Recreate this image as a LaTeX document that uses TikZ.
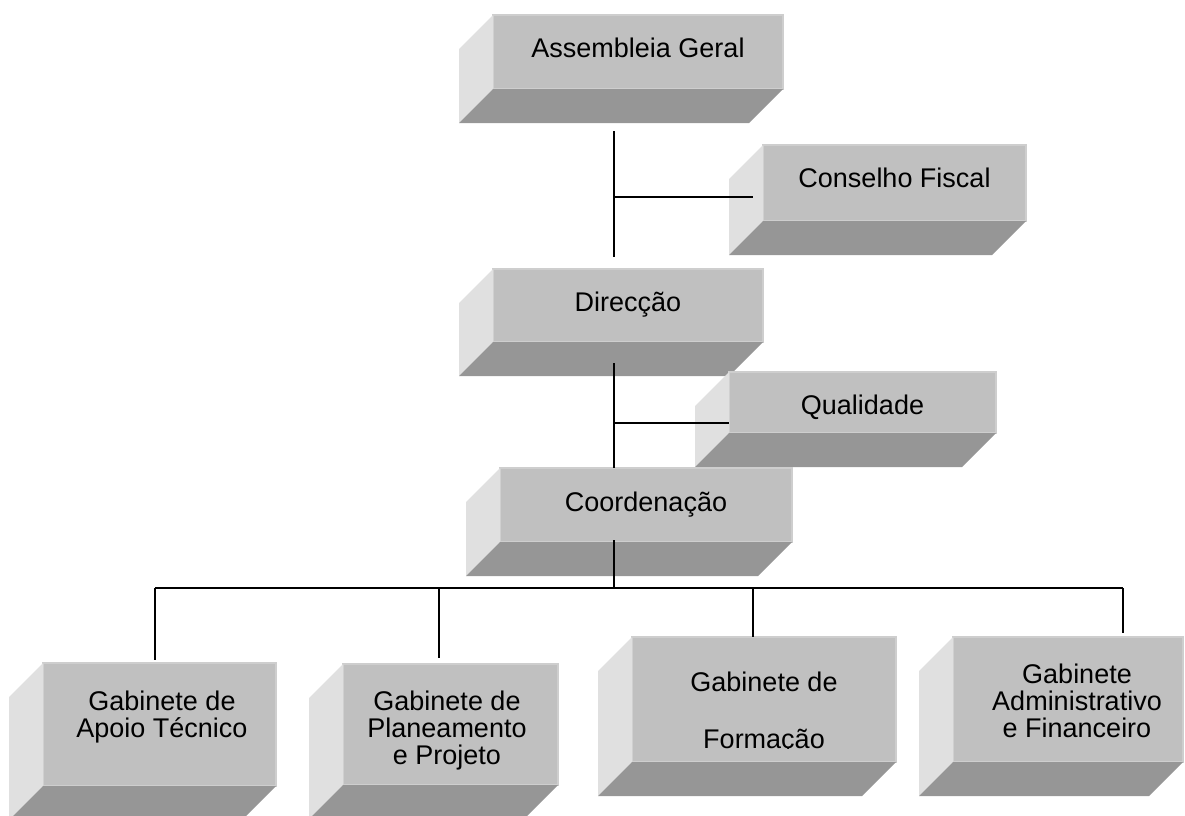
\documentclass[tikz,border=0pt]{standalone}
\usepackage{fontspec}
\setmainfont{Liberation Sans}
\usetikzlibrary{calc}

\definecolor{frontgray}{RGB}{192,192,192}
\definecolor{sidegray}{RGB}{224,224,224}
\definecolor{bottomgray}{RGB}{150,150,150}
\definecolor{edgegray}{RGB}{206,206,206}

% left and bottom faces of a box
\newcommand{\boxfaces}[1]{%
  \fill[sideface] (#1.north west) -- ++(-34,34) -- ($(#1.south west)+(-34,34)$) -- (#1.south west) -- cycle;
  \fill[bottomface] (#1.south west) -- (#1.south east) -- ++(-34,34) -- ($(#1.south west)+(-34,34)$) -- cycle;
}

\begin{document}
\begin{tikzpicture}[x=1pt, y=-1pt, line width=2pt,
    frontface/.style={fill=frontgray, draw=edgegray, line width=1.5pt, inner sep=0pt, outer sep=0pt},
    sideface/.style={fill=sidegray},
    bottomface/.style={fill=bottomgray},
    boxtext/.style={anchor=base, align=center, inner sep=0pt, font=\fontsize{27}{27}\selectfont}]
\useasboundingbox (0,0) rectangle (1185,815);

% Top
\node[frontface, minimum width=290pt, minimum height=74pt] (ag) at (638,52) {};
\boxfaces{ag}
\node[boxtext] (agtext) at (638,57) {Assembleia Geral};

\node[frontface, minimum width=263pt, minimum height=76pt] (cf) at (894.5,183) {};
\boxfaces{cf}
\node[boxtext] (cftext) at (894.5,187) {Conselho Fiscal};

% Middle
\node[frontface, minimum width=270pt, minimum height=73pt] (dir) at (628,305.5) {};
\boxfaces{dir}
\node[boxtext] (dirtext) at (628,311) {Direcção};

\node[frontface, minimum width=267pt, minimum height=61pt] (qual) at (862.5,402.5) {};
\boxfaces{qual}
\node[boxtext] (qualtext) at (862.5,414) {Qualidade};

\node[frontface, minimum width=292pt, minimum height=74pt] (coord) at (646,505) {};
\boxfaces{coord}
\node[boxtext] (coordtext) at (646,511) {Coordenação};

% Gabinetes (base = last line)
\node[frontface, minimum width=233pt, minimum height=123pt] (gat) at (159.5,724.5) {};
\boxfaces{gat}
\node[boxtext] (gattext) at (162,737) {Gabinete de\\Apoio Técnico};

\node[frontface, minimum width=215pt, minimum height=121pt] (gpp) at (450.5,724.5) {};
\boxfaces{gpp}
\node[boxtext] (gpptext) at (447,764) {Gabinete de\\Planeamento\\e Projeto};

\node[frontface, minimum width=264pt, minimum height=125pt] (gf) at (764,699.5) {};
\boxfaces{gf}
\begin{scope}
  \clip (gf.north west) rectangle (896,748);
  \node[boxtext] (gftext) at (764,748.5) {Gabinete de\\[30pt]Formação};
\end{scope}

\node[frontface, minimum width=230pt, minimum height=125pt] (gaf) at (1068,699.5) {};
\boxfaces{gaf}
\node[boxtext] (gaftext) at (1077,737) {Gabinete\\Administrativo\\e Financeiro};

% Connectors
\coordinate (agdown) at (614,131);
\coordinate (dirup) at (614,257);
\coordinate (cfjoin) at (614,197);
\coordinate (cfend) at (753,197);
\coordinate (dirdown) at (614,363);
\coordinate (qjoin) at (614,423);
\coordinate (coorddown) at (614,540);
\coordinate (bus) at (614,588);
\coordinate (b1) at (155,588);
\coordinate (b2) at (439,588);
\coordinate (b3) at (753,588);
\coordinate (b4) at (1123,588);

\draw (agdown) -- (dirup);
\draw (cfjoin) -- (cfend);
\draw (dirdown) -- (dirdown |- coord.north);
\draw (qjoin) -- (qjoin -| qual.west);
\draw (coorddown) -- (bus);
\draw (b1) -- (b4);
\draw (b1) -- ([yshift=3pt]b1 |- gat.north);
\draw (b2) -- ([yshift=6pt]b2 |- gpp.north);
\draw (b3) -- (b3 |- gf.north);
\draw (b4) -- ([yshift=4pt]b4 |- gaf.north);
\end{tikzpicture}
\end{document}
